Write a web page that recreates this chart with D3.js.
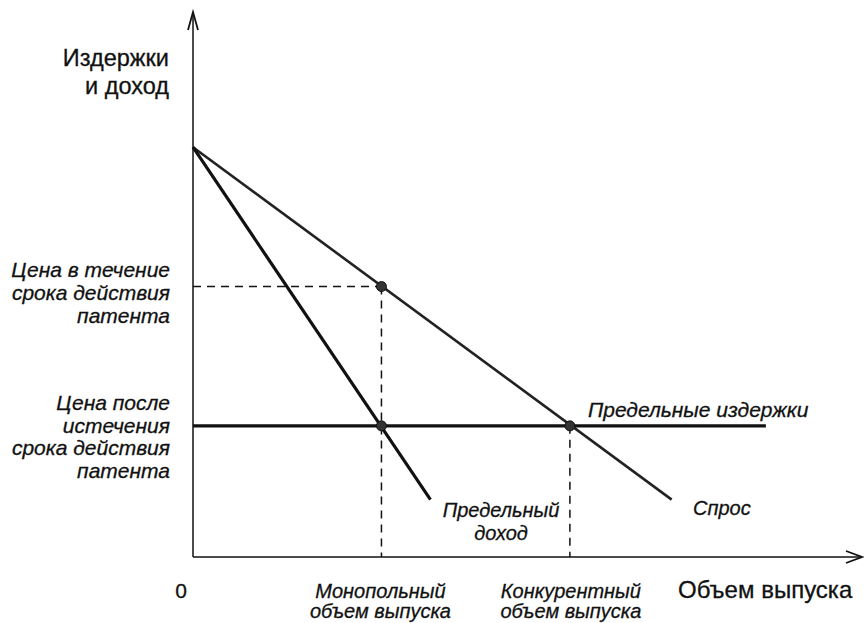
<!DOCTYPE html>
<html>
<head>
<meta charset="utf-8">
<script src="https://cdn.jsdelivr.net/npm/d3@7"></script>
<style>
  body { margin: 0; background: #fff; }
  text { font-family: "Liberation Sans", Arial, sans-serif; fill: #111; }
  .it { font-style: italic; }
</style>
</head>
<body>
<svg id="chart" width="864" height="623"></svg>
<script>
// values (output units, price units)
var demandQ = [0, 12.7], demandP = [10, 1.4];
var mrQ = [0, 6.3], mrP = [10, 1.4];
var mcQ = [0, 15.2], mcP = [3.2, 3.2];
var monoQ = 5, monoP = 6.6;
var compQ = 10, compP = 3.2;
var xMax = 17.75, yMax = 13.3;

var yTitle = ["Издержки", "и доход"];
var xTitle = "Объем выпуска";
var priceDuring = ["Цена в течение", "срока действия", "патента"];
var priceAfter = ["Цена после", "истечения", "срока действия", "патента"];
var monoLabel = ["Монопольный", "объем выпуска"];
var compLabel = ["Конкурентный", "объем выпуска"];
var mcLabel = "Предельные издержки";
var demandLabel = "Спрос";
var mrLabel = ["Предельный", "доход"];

var svg = d3.select("#chart");
var x = d3.scaleLinear().domain([0, xMax]).range([193, 862]);
var y = d3.scaleLinear().domain([0, yMax]).range([557, 12]);

var line = d3.line().x(function(d) { return x(d[0]); }).y(function(d) { return y(d[1]); });
function pts(qs, ps) { return qs.map(function(q, i) { return [q, ps[i]]; }); }

/** axes with open arrow heads */
svg.append("path").attr("d", line([[0, 0], [0, yMax]]))
  .style("stroke", "#111").style("stroke-width", 1.5).style("fill", "none");
svg.append("path").attr("d", line([[0, 0], [xMax, 0]]))
  .style("stroke", "#111").style("stroke-width", 1.5).style("fill", "none");
svg.append("path")
  .attr("d", "M" + (x(0) - 5) + "," + (y(yMax) + 18) + "L" + x(0) + "," + y(yMax) + "L" + (x(0) + 5) + "," + (y(yMax) + 18))
  .style("stroke", "#111").style("stroke-width", 1.8).style("fill", "none");
svg.append("path")
  .attr("d", "M" + (x(xMax) - 16) + "," + (y(0) - 6) + "L" + x(xMax) + "," + y(0) + "L" + (x(xMax) - 16) + "," + (y(0) + 6))
  .style("stroke", "#111").style("stroke-width", 1.8).style("fill", "none");

/** dashed guides */
var dashes = [
  [[0, monoP], [monoQ, monoP]],
  [[monoQ, monoP], [monoQ, 0]],
  [[compQ, compP], [compQ, 0]]
];
svg.selectAll(".guide").data(dashes).enter().append("path")
  .attr("class", "guide")
  .attr("d", line)
  .style("stroke", "#111").style("stroke-width", 1.5)
  .style("stroke-dasharray", "8,6").style("fill", "none");

/** curves */
svg.append("path").attr("d", line(pts(demandQ, demandP)))
  .style("stroke", "#222").style("stroke-width", 2.6).style("fill", "none");
svg.append("path").attr("d", line(pts(mrQ, mrP)))
  .style("stroke", "#111").style("stroke-width", 3.2).style("fill", "none");
svg.append("path").attr("d", line(pts(mcQ, mcP)))
  .style("stroke", "#111").style("stroke-width", 3.2).style("fill", "none");

/** equilibrium points */
svg.selectAll(".pt").data([[monoQ, monoP], [monoQ, compP], [compQ, compP]])
  .enter().append("circle")
  .attr("class", "pt")
  .attr("cx", function(d) { return x(d[0]); })
  .attr("cy", function(d) { return y(d[1]); })
  .attr("r", 5)
  .style("fill", "#333").style("stroke", "#111").style("stroke-width", 1);

/** text blocks */
function block(lines, px, py, lh, anchor, cls, size) {
  var t = svg.append("text")
    .attr("class", cls)
    .attr("text-anchor", anchor)
    .style("font-size", size + "px")
    .style("stroke", "#111").style("stroke-width", 0.3);
  lines.forEach(function(s, i) {
    t.append("tspan").attr("x", px).attr("y", py + i * lh).text(s);
  });
  return t;
}

block(yTitle, 169, 66, 28, "end", "", 23.5);
block([xTitle], 678, 598, 0, "start", "", 24);
block(["0"], 181, 598, 0, "middle", "", 21);
block(priceDuring, 170, 277, 23, "end", "it", 21);
block(priceAfter, 170, 410, 22.7, "end", "it", 21);
block(monoLabel, x(monoQ) - 1, 598, 20, "middle", "it", 20);
block(compLabel, x(compQ) + 1, 598, 20, "middle", "it", 20);
block([mcLabel], 588, 417, 0, "start", "it", 21);
block([demandLabel], 693, 515, 0, "start", "it", 20);
block(mrLabel, 501, 517, 23, "middle", "it", 20);
</script>
</body>
</html>
